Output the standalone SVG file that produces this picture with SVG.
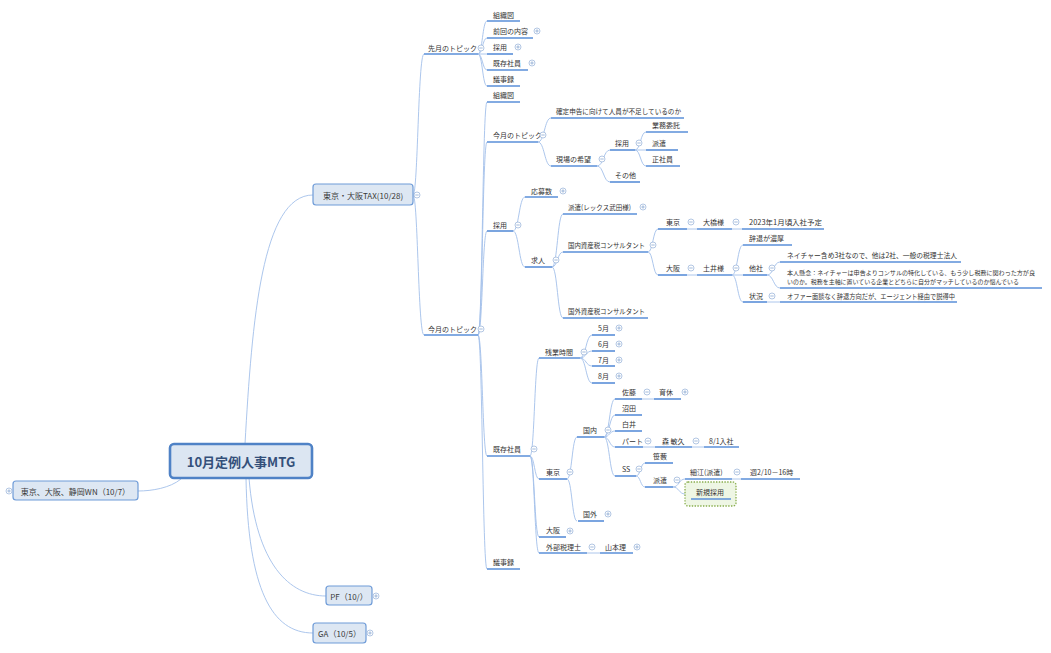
<svg xmlns="http://www.w3.org/2000/svg" xmlns:xlink="http://www.w3.org/1999/xlink" width="1051" height="653" viewBox="0 0 1051 653">
<style>
.t{font-family:"Noto Sans CJK JP","Noto Sans",sans-serif;font-size:7px;fill:#333;dominant-baseline:central}
.ts{font-family:"Noto Sans CJK JP","Noto Sans",sans-serif;font-size:5.8px;fill:#333;dominant-baseline:central}
.t1{font-family:"Noto Sans CJK JP","Noto Sans",sans-serif;font-size:8px;fill:#3a3a3a;dominant-baseline:central;text-anchor:middle}
.tc{font-family:"Noto Sans CJK JP","Noto Sans",sans-serif;font-size:13px;font-weight:bold;fill:#34507a;dominant-baseline:central;text-anchor:middle}
.ul{stroke:#5a8fd8;stroke-width:1.6;fill:none}
.c{stroke:#a3c0ea;stroke-width:0.9;fill:none}
.box{fill:#dde7f3;stroke:#6f9cd8;stroke-width:1.2}
.cbox{fill:#dce6f2;stroke:#4f82c6;stroke-width:2.6}
.nb{fill:#eef6e4;stroke:#88ad4c;stroke-width:1.3;stroke-dasharray:1.4 1.4}
.k{fill:#fff;stroke:#9fb9dc;stroke-width:0.8}
.km{stroke:#8aa8d2;stroke-width:0.8}
</style>
<defs>
<g id="mn"><circle class="k" r="3"/><path class="km" d="M-1.7,0H1.7"/></g>
<g id="pl"><circle class="k" r="3"/><path class="km" d="M-1.7,0H1.7M0,-1.7V1.7"/></g>
</defs>
<rect width="1051" height="653" fill="#fff"/>
<g id="connectors">
<path class="c" d="M245,444 C252,320 262,195 313,195"/>
<path class="c" d="M181,479 C170,488 152,491 138,491"/>
<path class="c" d="M249,478 C256,565 290,596 326,596"/>
<path class="c" d="M246,478 C248,590 272,633 313,633"/>
<path class="c" d="M413,195 C418,195 418,54 424,54"/>
<path class="c" d="M413,195 C418,195 418,335 424,335"/>
<path class="c" d="M478,54 C482.5,54 482.5,21 487,21"/>
<path class="c" d="M478,54 C482.5,54 482.5,38 487,38"/>
<path class="c" d="M478,54 L487,54"/>
<path class="c" d="M478,54 C482.5,54 482.5,70 487,70"/>
<path class="c" d="M478,54 C482.5,54 482.5,86 487,86"/>
<path class="c" d="M478,335 C482.5,335 482.5,102 487,102"/>
<path class="c" d="M478,335 C482.5,335 482.5,142 487,142"/>
<path class="c" d="M478,335 C482.5,335 482.5,231 487,231"/>
<path class="c" d="M478,335 C482.5,335 482.5,456 487,456"/>
<path class="c" d="M478,335 C482.5,335 482.5,569 487,569"/>
<path class="c" d="M538,142 C544.5,142 544.5,118 551,118"/>
<path class="c" d="M538,142 C544.5,142 544.5,166 551,166"/>
<path class="c" d="M597,166 C603.5,166 603.5,150 610,150"/>
<path class="c" d="M597,166 C603.5,166 603.5,182 610,182"/>
<path class="c" d="M635,150 C640.5,150 640.5,132 646,132"/>
<path class="c" d="M635,150 L646,150"/>
<path class="c" d="M635,150 C640.5,150 640.5,166 646,166"/>
<path class="c" d="M513,231 C519,231 519,197 525,197"/>
<path class="c" d="M513,231 C519,231 519,267 525,267"/>
<path class="c" d="M552,267 C557.5,267 557.5,214 563,214"/>
<path class="c" d="M552,267 C557.5,267 557.5,252 563,252"/>
<path class="c" d="M552,267 C557.5,267 557.5,318 563,318"/>
<path class="c" d="M648,252 C653,252 653,229 658,229"/>
<path class="c" d="M648,252 C653,252 653,275 658,275"/>
<path class="c" d="M687,229 L697,229"/>
<path class="c" d="M732,229 L742,229"/>
<path class="c" d="M687,275 L697,275"/>
<path class="c" d="M732,275 C737.5,275 737.5,245 743,245"/>
<path class="c" d="M732,275 L743,275"/>
<path class="c" d="M732,275 C737.5,275 737.5,302 743,302"/>
<path class="c" d="M767,275 C773.5,275 773.5,262 780,262"/>
<path class="c" d="M767,275 C773.5,275 773.5,288 780,288"/>
<path class="c" d="M767,302 L780,302"/>
<path class="c" d="M530,456 C534.5,456 534.5,358 539,358"/>
<path class="c" d="M530,456 C534.5,456 534.5,479 539,479"/>
<path class="c" d="M530,456 C534.5,456 534.5,537 539,537"/>
<path class="c" d="M530,456 C534.5,456 534.5,553 539,553"/>
<path class="c" d="M580,358 C586,358 586,335 592,335"/>
<path class="c" d="M580,358 C586,358 586,351 592,351"/>
<path class="c" d="M580,358 C586,358 586,366 592,366"/>
<path class="c" d="M580,358 C586,358 586,383 592,383"/>
<path class="c" d="M567,479 C572,479 572,437 577,437"/>
<path class="c" d="M567,479 C572,479 572,521 577,521"/>
<path class="c" d="M604,437 C609.5,437 609.5,399 615,399"/>
<path class="c" d="M604,437 C609.5,437 609.5,415 615,415"/>
<path class="c" d="M604,437 C609.5,437 609.5,431 615,431"/>
<path class="c" d="M604,437 C609.5,437 609.5,447 615,447"/>
<path class="c" d="M604,437 C609.5,437 609.5,476 615,476"/>
<path class="c" d="M642,399 L654,399"/>
<path class="c" d="M643,447 L655,447"/>
<path class="c" d="M692,447 L704,447"/>
<path class="c" d="M636,476 C640.5,476 640.5,463 645,463"/>
<path class="c" d="M636,476 C640.5,476 640.5,487 645,487"/>
<path class="c" d="M673,487 C679,487 679,479 685,479"/>
<path class="c" d="M673,487 C679,487 679,494 685,494"/>
<path class="c" d="M732,479 L741,479"/>
<path class="c" d="M587,553 L600,553"/>
</g>
<g id="n-root"><rect class="cbox" x="170" y="444" width="142" height="34" rx="4"/><text class="tc" x="241" y="461">10月定例人事MTG</text></g>
<g id="n-wn"><rect class="box" x="13" y="481" width="125" height="19" rx="3"/><text class="t1" x="75.5" y="491">東京、大阪、静岡WN（10/7）</text><use xlink:href="#pl" x="9" y="491"/></g>
<g id="n-tax"><rect class="box" x="313" y="184" width="100" height="21" rx="3"/><text class="t1" x="363" y="195">東京・大阪TAX(10/28)</text><use xlink:href="#mn" x="417" y="195"/></g>
<g id="n-pf"><rect class="box" x="326" y="586" width="46" height="19" rx="3"/><text class="t1" x="349" y="596">PF（10/）</text><use xlink:href="#pl" x="376" y="596"/></g>
<g id="n-ga"><rect class="box" x="313" y="623" width="53" height="20" rx="3"/><text class="t1" x="339.5" y="633">GA（10/5）</text><use xlink:href="#pl" x="370" y="633"/></g>

<g id="n-sengetsu"><text class="t" x="428" y="48">先月のトピック</text><path class="ul" d="M424,54H478"/><use xlink:href="#mn" x="481" y="48"/></g>
<g id="n-s1"><text class="t" x="493" y="15">組織図</text><path class="ul" d="M487,21H520"/></g>
<g id="n-s2"><text class="t" x="493" y="31">前回の内容</text><path class="ul" d="M487,38H533"/><use xlink:href="#pl" x="537" y="31"/></g>
<g id="n-s3"><text class="t" x="493" y="47">採用</text><path class="ul" d="M487,54H513"/><use xlink:href="#pl" x="518" y="47"/></g>
<g id="n-s4"><text class="t" x="493" y="63">既存社員</text><path class="ul" d="M487,70H528"/><use xlink:href="#pl" x="532" y="63"/></g>
<g id="n-s5"><text class="t" x="493" y="79">議事録</text><path class="ul" d="M487,86H520"/></g>

<g id="n-kongetsu"><text class="t" x="428" y="329">今月のトピック</text><path class="ul" d="M424,335H478"/><use xlink:href="#mn" x="481" y="329"/></g>
<g id="n-k1"><text class="t" x="493" y="95">組織図</text><path class="ul" d="M487,102H520"/></g>
<g id="n-k2"><text class="t" x="493" y="135">今月のトピック</text><path class="ul" d="M487,142H538"/><use xlink:href="#mn" x="543" y="135"/></g>
<g id="n-k2a"><text class="t" x="556" y="111" textLength="125" lengthAdjust="spacingAndGlyphs">確定申告に向けて人員が不足しているのか</text><path class="ul" d="M551,118H684"/></g>
<g id="n-k2b"><text class="t" x="556" y="159">現場の希望</text><path class="ul" d="M551,166H597"/><use xlink:href="#mn" x="602" y="159"/></g>
<g id="n-k2b1"><text class="t" x="615" y="143">採用</text><path class="ul" d="M610,150H635"/><use xlink:href="#mn" x="639" y="143"/></g>
<g id="n-k2b1a"><text class="t" x="652" y="125">業務委託</text><path class="ul" d="M646,132H688"/></g>
<g id="n-k2b1b"><text class="t" x="652" y="143">派遣</text><path class="ul" d="M646,150H678"/></g>
<g id="n-k2b1c"><text class="t" x="652" y="159">正社員</text><path class="ul" d="M646,166H680"/></g>
<g id="n-k2b2"><text class="t" x="615" y="175">その他</text><path class="ul" d="M610,182H640"/></g>

<g id="n-k3"><text class="t" x="493" y="225">採用</text><path class="ul" d="M487,231H513"/><use xlink:href="#mn" x="518" y="225"/></g>
<g id="n-k3a"><text class="t" x="531" y="191">応募数</text><path class="ul" d="M525,197H558"/><use xlink:href="#pl" x="563" y="191"/></g>
<g id="n-k3b"><text class="t" x="531" y="260">求人</text><path class="ul" d="M525,267H552"/><use xlink:href="#mn" x="556" y="260"/></g>
<g id="n-k3b1"><text class="t" x="568" y="207" textLength="63" lengthAdjust="spacingAndGlyphs">派遣(レックス武田様)</text><path class="ul" d="M563,214H637"/><use xlink:href="#pl" x="643" y="207"/></g>
<g id="n-k3b2"><text class="t" x="568" y="245" textLength="77" lengthAdjust="spacingAndGlyphs">国内資産税コンサルタント</text><path class="ul" d="M563,252H648"/><use xlink:href="#mn" x="653" y="245"/></g>
<g id="n-k3b3"><text class="t" x="568" y="311" textLength="77" lengthAdjust="spacingAndGlyphs">国外資産税コンサルタント</text><path class="ul" d="M563,318H648"/></g>
<g id="n-tokyo1"><text class="t" x="666" y="222">東京</text><path class="ul" d="M658,229H687"/><use xlink:href="#mn" x="691" y="222"/></g>
<g id="n-ohashi"><text class="t" x="703" y="222">大橋様</text><path class="ul" d="M697,229H732"/><use xlink:href="#mn" x="736" y="222"/></g>
<g id="n-ohashi1"><text class="t" x="749" y="222" textLength="73" lengthAdjust="spacingAndGlyphs">2023年1月頃入社予定</text><path class="ul" d="M742,229H824"/></g>
<g id="n-osaka1"><text class="t" x="666" y="268">大阪</text><path class="ul" d="M658,275H687"/><use xlink:href="#mn" x="691" y="268"/></g>
<g id="n-doi"><text class="t" x="703" y="268">土井様</text><path class="ul" d="M697,275H732"/><use xlink:href="#mn" x="736" y="268"/></g>
<g id="n-doi1"><text class="t" x="749" y="238">辞退が濃厚</text><path class="ul" d="M743,245H792"/></g>
<g id="n-doi2"><text class="t" x="749" y="268">他社</text><path class="ul" d="M743,275H767"/><use xlink:href="#mn" x="772" y="268"/></g>
<g id="n-doi2a"><text class="t" x="787" y="255" textLength="170" lengthAdjust="spacingAndGlyphs">ネイチャー含め3社なので、他は2社、一般の税理士法人</text><path class="ul" d="M780,262H961"/></g>
<g id="n-doi2b"><text class="ts" x="787" y="272.5" textLength="248" lengthAdjust="spacingAndGlyphs">本人懸念：ネイチャーは申告よりコンサルの特化している、もう少し税務に関わった方が良</text><text class="ts" x="787" y="281" textLength="232" lengthAdjust="spacingAndGlyphs">いのか。税務を主軸に置いている企業とどちらに自分がマッチしているのか悩んでいる</text><path class="ul" d="M780,288H1042"/></g>
<g id="n-doi3"><text class="t" x="749" y="296">状況</text><path class="ul" d="M743,302H767"/><use xlink:href="#mn" x="772" y="296"/></g>
<g id="n-doi3a"><text class="t" x="787" y="296" textLength="168" lengthAdjust="spacingAndGlyphs">オファー面談なく辞退方向だが、エージェント経由で説得中</text><path class="ul" d="M780,302H957"/></g>

<g id="n-k4"><text class="t" x="493" y="449">既存社員</text><path class="ul" d="M487,456H530"/><use xlink:href="#mn" x="534" y="449"/></g>
<g id="n-zangyo"><text class="t" x="545" y="352">残業時間</text><path class="ul" d="M539,358H580"/><use xlink:href="#mn" x="584" y="352"/></g>
<g id="n-m5"><text class="t" x="598" y="328">5月</text><path class="ul" d="M592,335H615"/><use xlink:href="#pl" x="619" y="328"/></g>
<g id="n-m6"><text class="t" x="598" y="344">6月</text><path class="ul" d="M592,351H615"/><use xlink:href="#pl" x="619" y="344"/></g>
<g id="n-m7"><text class="t" x="598" y="360">7月</text><path class="ul" d="M592,366H615"/><use xlink:href="#pl" x="619" y="360"/></g>
<g id="n-m8"><text class="t" x="598" y="376">8月</text><path class="ul" d="M592,383H615"/><use xlink:href="#pl" x="619" y="376"/></g>
<g id="n-tokyo2"><text class="t" x="546" y="472">東京</text><path class="ul" d="M539,479H567"/><use xlink:href="#mn" x="570" y="472"/></g>
<g id="n-kokunai"><text class="t" x="583" y="430">国内</text><path class="ul" d="M577,437H604"/><use xlink:href="#mn" x="608" y="430"/></g>
<g id="n-sato"><text class="t" x="622" y="392">佐藤</text><path class="ul" d="M615,399H642"/><use xlink:href="#mn" x="647" y="392"/></g>
<g id="n-ikukyu"><text class="t" x="659" y="392">育休</text><path class="ul" d="M654,399H681"/><use xlink:href="#pl" x="685" y="392"/></g>
<g id="n-numata"><text class="t" x="622" y="408">沼田</text><path class="ul" d="M615,415H642"/></g>
<g id="n-shirai"><text class="t" x="622" y="424">白井</text><path class="ul" d="M615,431H642"/></g>
<g id="n-part"><text class="t" x="622" y="441">パート</text><path class="ul" d="M615,447H643"/><use xlink:href="#mn" x="648" y="441"/></g>
<g id="n-mori"><text class="t" x="662" y="441">森 敏久</text><path class="ul" d="M655,447H692"/><use xlink:href="#mn" x="696" y="441"/></g>
<g id="n-mori1"><text class="t" x="709" y="441">8/1入社</text><path class="ul" d="M704,447H739"/></g>
<g id="n-ss"><text class="t" x="622" y="469">SS</text><path class="ul" d="M615,476H636"/><use xlink:href="#mn" x="639" y="469"/></g>
<g id="n-sasayabu"><text class="t" x="653" y="456">笹藪</text><path class="ul" d="M645,463H673"/></g>
<g id="n-haken"><text class="t" x="653" y="480">派遣</text><path class="ul" d="M645,487H673"/><use xlink:href="#mn" x="677" y="480"/></g>
<g id="n-hosoe"><text class="t" x="690" y="472">細江(派遣)</text><path class="ul" d="M685,479H732"/><use xlink:href="#mn" x="737" y="472"/></g>
<g id="n-hosoe1"><text class="t" x="750" y="472">週2/10－16時</text><path class="ul" d="M741,479H800"/></g>
<g id="n-shinki"><rect class="nb" x="685" y="482" width="51" height="24" rx="3"/><text class="t" x="696" y="492">新規採用</text><path class="ul" d="M691,499H731"/></g>
<g id="n-kokugai"><text class="t" x="583" y="514">国外</text><path class="ul" d="M578,521H604"/><use xlink:href="#pl" x="608" y="514"/></g>
<g id="n-osaka2"><text class="t" x="546" y="530">大阪</text><path class="ul" d="M539,537H566"/><use xlink:href="#pl" x="570" y="531"/></g>
<g id="n-gaibu"><text class="t" x="546" y="547">外部税理士</text><path class="ul" d="M539,553H587"/><use xlink:href="#mn" x="592" y="547"/></g>
<g id="n-yamamoto"><text class="t" x="605" y="547">山本理</text><path class="ul" d="M600,553H633"/><use xlink:href="#pl" x="637" y="547"/></g>
<g id="n-k5"><text class="t" x="493" y="562">議事録</text><path class="ul" d="M487,569H520"/></g>
</svg>
